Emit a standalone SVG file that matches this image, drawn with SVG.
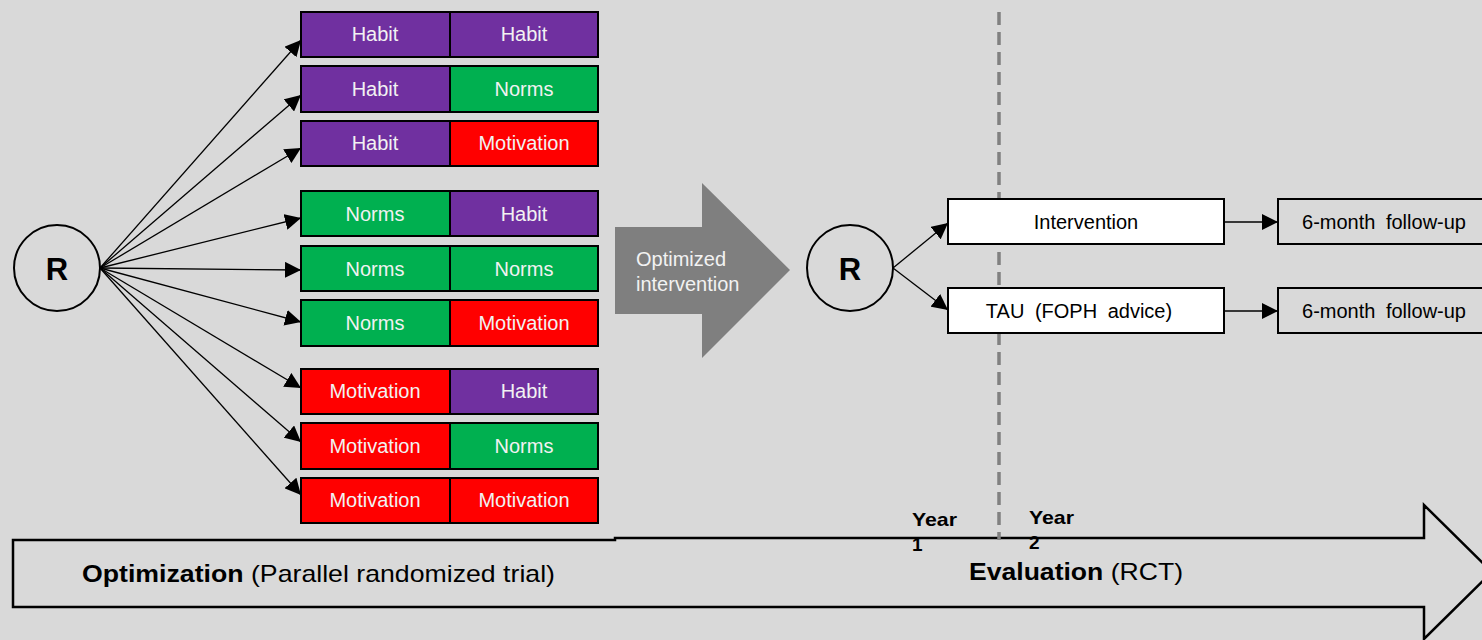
<svg xmlns="http://www.w3.org/2000/svg" width="1482" height="640" viewBox="0 0 1482 640">
<defs>
<marker id="ah2" viewBox="0 0 10 10" refX="10" refY="5" markerWidth="16" markerHeight="16" markerUnits="userSpaceOnUse" orient="auto"><path d="M0,0 L10,5 L0,10 z" fill="#000"/></marker>
<style>
text{font-family:"Liberation Sans",Arial,sans-serif}
.cell{stroke:#000;stroke-width:2}
.p{fill:#7030a0}.g{fill:#00b050}.r{fill:#ff0000}
.ct{fill:#f2f2f2;font-size:20px;text-anchor:middle;dominant-baseline:central}
.con{stroke:#000;stroke-width:1.3;fill:none;marker-end:url(#ah2)}
.circ{fill:none;stroke:#000;stroke-width:2}
.R{font-size:31px;font-weight:bold;text-anchor:middle;dominant-baseline:central}
.wb{fill:#fff;stroke:#000;stroke-width:2}
.gb{fill:#d9d9d9;stroke:#000;stroke-width:2}
.bt{font-size:20px;text-anchor:middle;dominant-baseline:central;fill:#000;word-spacing:5px}
.yr{font-size:19px;font-weight:bold;fill:#000}
</style>
</defs>
<rect x="0" y="0" width="1482" height="640" fill="#d9d9d9"/>
<g id="timeline">
<path d="M13 540 H615 V538 H1424 V505 L1492 572 L1424 639 V607 H13 Z" fill="#d9d9d9" stroke="#000" stroke-width="2.5"/>
<text x="82" y="582" font-size="24" fill="#000" textLength="473" lengthAdjust="spacingAndGlyphs"><tspan font-weight="bold">Optimization</tspan> (Parallel randomized trial)</text>
<text x="969" y="580" font-size="24" fill="#000" textLength="214" lengthAdjust="spacingAndGlyphs"><tspan font-weight="bold">Evaluation</tspan> (RCT)</text>
<text class="yr" x="912" y="526" textLength="45" lengthAdjust="spacingAndGlyphs">Year</text>
<text class="yr" x="912" y="551">1</text>
<text class="yr" x="1029" y="524" textLength="45" lengthAdjust="spacingAndGlyphs">Year</text>
<text class="yr" x="1029" y="549">2</text>
</g>
<g id="divider"><line x1="999" y1="12" x2="999" y2="540" stroke="#808080" stroke-width="3.5" stroke-dasharray="13,7"/></g>
<g id="R1"><circle class="circ" cx="57" cy="268" r="43"/><text class="R" x="57" y="269">R</text></g>
<g id="arms">
<g id="arm1"><rect class="cell p" x="301" y="12" width="149" height="45"/><rect class="cell p" x="450" y="12" width="148" height="45"/><text class="ct" x="375" y="34">Habit</text><text class="ct" x="524" y="34">Habit</text></g>
<g id="arm2"><rect class="cell p" x="301" y="66" width="149" height="46"/><rect class="cell g" x="450" y="66" width="148" height="46"/><text class="ct" x="375" y="89">Habit</text><text class="ct" x="524" y="89">Norms</text></g>
<g id="arm3"><rect class="cell p" x="301" y="121" width="149" height="45"/><rect class="cell r" x="450" y="121" width="148" height="45"/><text class="ct" x="375" y="143">Habit</text><text class="ct" x="524" y="143">Motivation</text></g>
<g id="arm4"><rect class="cell g" x="301" y="191" width="149" height="45"/><rect class="cell p" x="450" y="191" width="148" height="45"/><text class="ct" x="375" y="214">Norms</text><text class="ct" x="524" y="214">Habit</text></g>
<g id="arm5"><rect class="cell g" x="301" y="246" width="149" height="45"/><rect class="cell g" x="450" y="246" width="148" height="45"/><text class="ct" x="375" y="269">Norms</text><text class="ct" x="524" y="269">Norms</text></g>
<g id="arm6"><rect class="cell g" x="301" y="300" width="149" height="46"/><rect class="cell r" x="450" y="300" width="148" height="46"/><text class="ct" x="375" y="323">Norms</text><text class="ct" x="524" y="323">Motivation</text></g>
<g id="arm7"><rect class="cell r" x="301" y="369" width="149" height="45"/><rect class="cell p" x="450" y="369" width="148" height="45"/><text class="ct" x="375" y="391">Motivation</text><text class="ct" x="524" y="391">Habit</text></g>
<g id="arm8"><rect class="cell r" x="301" y="423" width="149" height="46"/><rect class="cell g" x="450" y="423" width="148" height="46"/><text class="ct" x="375" y="446">Motivation</text><text class="ct" x="524" y="446">Norms</text></g>
<g id="arm9"><rect class="cell r" x="301" y="478" width="149" height="45"/><rect class="cell r" x="450" y="478" width="148" height="45"/><text class="ct" x="375" y="500">Motivation</text><text class="ct" x="524" y="500">Motivation</text></g>
</g>
<g id="bigarrow">
<path d="M615 227 H702 V183 L790 270 L702 358 V314 H615 Z" fill="#7f7f7f"/>
<text x="636" y="266" font-size="20" fill="#f2f2f2">Optimized</text>
<text x="636" y="291" font-size="20" fill="#f2f2f2">intervention</text>
</g>
<g id="R2"><circle class="circ" cx="850" cy="268" r="43"/><text class="R" x="850" y="269">R</text></g>
<g id="intervention"><rect class="wb" x="948" y="199" width="276" height="45"/><text class="bt" x="1086" y="222">Intervention</text></g>
<g id="tau"><rect class="wb" x="948" y="288" width="276" height="45"/><text class="bt" x="1079" y="311">TAU (FOPH advice)</text></g>
<g id="fu1"><rect class="gb" x="1278" y="199" width="214" height="45"/><text class="bt" x="1384" y="222">6-month follow-up</text></g>
<g id="fu2"><rect class="gb" x="1278" y="288" width="214" height="45"/><text class="bt" x="1384" y="311">6-month follow-up</text></g>
<g id="connectors">
<line class="con" x1="100" y1="268" x2="301" y2="40"/>
<line class="con" x1="100" y1="268" x2="301" y2="95"/>
<line class="con" x1="100" y1="268" x2="301" y2="148"/>
<line class="con" x1="100" y1="268" x2="301" y2="218"/>
<line class="con" x1="100" y1="268" x2="301" y2="270"/>
<line class="con" x1="100" y1="268" x2="301" y2="322"/>
<line class="con" x1="100" y1="268" x2="301" y2="388"/>
<line class="con" x1="100" y1="268" x2="301" y2="442"/>
<line class="con" x1="100" y1="268" x2="301" y2="495"/>
<line class="con" x1="893" y1="268" x2="948" y2="223"/>
<line class="con" x1="893" y1="268" x2="948" y2="310"/>
<line class="con" x1="1224" y1="222" x2="1278" y2="222"/>
<line class="con" x1="1224" y1="311" x2="1278" y2="311"/>
</g>
</svg>
